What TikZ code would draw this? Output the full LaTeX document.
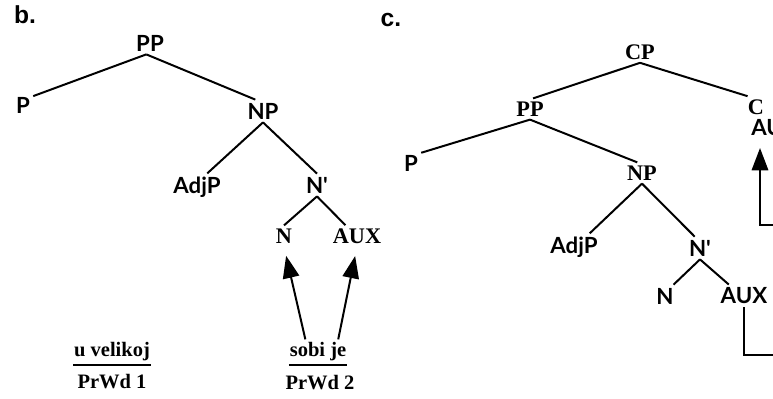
\documentclass[tikz,border=0pt]{standalone}
\usepackage{fontspec}
\setmainfont{Liberation Serif}
\newfontfamily\treesf{Lato}
\newfontfamily\headsf{Liberation Sans}
\usetikzlibrary{arrows.meta}
\tikzset{
  >={Triangle[length=19pt,width=14pt]},
  ts/.style={font=\fontsize{19}{21}\selectfont\treesf\bfseries,inner sep=2pt},
  tr/.style={font=\fontsize{19}{21}\selectfont\bfseries,inner sep=2pt},
  wd/.style={font=\fontsize{17.5}{20}\selectfont\bfseries,inner xsep=0pt,inner ysep=2pt},
  hd/.style={font=\fontsize{21}{23}\selectfont\headsf\bfseries,inner sep=0pt},
  every picture/.style={line width=1.7pt},
}
\begin{document}
\begin{tikzpicture}[x=0.03cm,y=-0.03cm]
\useasboundingbox (0,0) rectangle (773,399); \clip (0,0) rectangle (773,399);
% b.
\node[hd] (lb) at (25,15){b.};
\node[ts] (PPb) at (150,43){PP}; \node[ts] (Pb) at (23,105){P}; \node[ts] (NPb) at (263,111){NP};
\node[ts] (AdjPb) at (197,187){AdjP}; \node[ts] (Nbarb) at (317,185){N'};
\node[tr] (Nb) at (284,236){N}; \node[tr] (AUXb) at (357,236){AUX};
\node[wd] (uvel) at (112,352){u velikoj}; \node[wd] (sobi) at (318,352){sobi je};
\node[wd] (pw1) at (112,382){PrWd 1}; \node[wd] (pw2) at (320,383){PrWd 2};
\draw (PPb.-108)--(Pb.41); \draw (PPb.-108)--(NPb.124);
\draw (NPb.south)--(AdjPb.53); \draw (NPb.south)--(Nbarb.north);
\draw (Nbarb.south)--(Nb.north); \draw (Nbarb.south)--(AUXb.137);
\draw (uvel.south west)--(uvel.south east); \draw (sobi.south west)--(sobi.south east);
\draw[->,shorten >=8pt] (sobi.135)--(Nb.south); \draw[->,shorten >=8pt] (sobi.32)--(AUXb.south);
% c.
\node[hd] (lc) at (391,20){c.};
\node[tr] (CPc) at (640,52){CP}; \node[tr] (PPc) at (530,109){PP}; \node[tr] (Cc) at (756,107){C};
\node[ts,anchor=west] (AUXu) at (748,128){AUX};
\node[ts] (Pc) at (411,163){P}; \node[tr] (NPc) at (642,173){NP};
\node[ts] (AdjPc) at (574,247){AdjP}; \node[ts] (Nbarc) at (700,248){N'};
\node[ts] (Nc) at (665,296){N}; \node[ts] (AUXc) at (744,296){AUX};
\coordinate (tipA) at (760,148); \coordinate (edgeA) at (773,225); \coordinate (edgeB) at (773,355);
\draw (CPc.south)--(PPc.74); \draw (CPc.south)--(Cc.128);
\draw (PPc.south)--(Pc.45); \draw (PPc.south)--(NPc.114);
\draw (NPc.south)--(AdjPc.41); \draw (NPc.south)--(Nbarc.115);
\draw (Nbarc.south)--(Nc.53); \draw (Nbarc.south)--(AUXc.143);
\draw (AUXc.south) |- (edgeB); \draw[->] (edgeA) -| (tipA);
\end{tikzpicture}
\end{document}
